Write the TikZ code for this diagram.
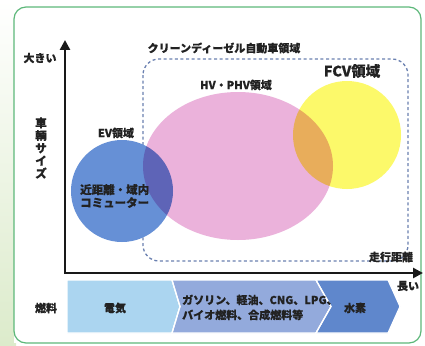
\documentclass[tikz,border=0pt]{standalone}
\usepackage{fontspec}
\setmainfont[FakeBold=0.35]{Noto Sans CJK JP}
\usetikzlibrary{arrows.meta}
\definecolor{framegreen}{HTML}{5DB87A}
\definecolor{palegreen}{HTML}{DCEBCB}
\definecolor{dashblue}{HTML}{6A80B0}
\definecolor{pinkc}{HTML}{EBB2DB}
\definecolor{yellowc}{HTML}{FCF96A}
\definecolor{bluec}{HTML}{6690D6}
\definecolor{fuelA}{HTML}{ABD5F0}
\definecolor{fuelB}{HTML}{93AADC}
\definecolor{fuelC}{HTML}{5F87CC}
\definecolor{txt}{HTML}{222222}
\tikzset{
  lbl/.style={inner sep=0pt, text=txt, font=\bfseries\fontsize{11}{13}\selectfont},
  biglbl/.style={inner sep=0pt, text=txt, font=\bfseries\fontsize{14.5}{16}\selectfont},
  fuelseg/.style={draw=white, line width=1.2pt, line join=miter},
  axisline/.style={line width=2.6pt, draw=black!90, line join=miter,
     {Triangle[length=10pt,width=10pt]}-{Triangle[length=10pt,width=10pt]}},
  zone/.style={draw=dashblue, line width=1.3pt, dash pattern=on 3pt off 2.6pt, rounded corners=16pt},
}
\begin{document}
\begin{tikzpicture}[x=1pt,y=-1pt]
\useasboundingbox (0,0) rectangle (425,345);
% left pale margin
\shade[top color=white, bottom color=palegreen] (0,0) rectangle (16,345);
\fill[white] (14,7) rectangle (421,343);
% frame
\draw[framegreen, line width=1.2pt, rounded corners=12pt] (14,7) rectangle (421,343);

% dashed clean diesel zone
\draw[zone] (143,59) rectangle (408,261);

% ellipses
\begin{scope}[blend group=multiply]
  \fill[pinkc] (238,166) ellipse [x radius=95, y radius=74];
  \fill[yellowc] (347,135) circle [radius=54];
  \fill[bluec] (122,191) circle [radius=51];
\end{scope}

% axes
\coordinate (ytop) at (65,40);
\coordinate (origin) at (65,273);
\coordinate (xend) at (423,273);
\draw[axisline] (ytop) -- (origin) -- (xend);

% labels
\node[lbl] (big) at (40,58) {大きい};
\node[lbl, align=center, font=\bfseries\fontsize{11.5}{12.6}\selectfont] (size) at (41,148) {車\\輌\\サ\\イ\\ズ};
\node[lbl] (cd) at (224,48) {クリーンディーゼル自動車領域};
\node[lbl] (hv) at (236,85) {HV・PHV領域};
\node[biglbl] (fcv) at (352,71) {FCV領域};
\node[lbl] (ev) at (116,133) {EV領域};
\node[lbl, anchor=west, align=left, font=\bfseries\fontsize{11.5}{13}\selectfont] (commuter) at (80,196) {近距離・域内\\コミューター};
\node[lbl] (dist) at (391,257) {走行距離};
\node[lbl] (long) at (408,286) {長い};

% fuel bar
\fill[fuelseg, fill=fuelA] (67,280) -- (172,280) -- (180,306.5) -- (172,333) -- (67,333) -- cycle;
\fill[fuelseg, fill=fuelB] (172,280) -- (316,280) -- (331,306.5) -- (316,333) -- (172,333) -- (180,306.5) -- cycle;
\fill[fuelseg, fill=fuelC] (316,280) -- (388,280) -- (400,306.5) -- (388,333) -- (316,333) -- (331,306.5) -- cycle;
\draw[fuelseg] (172,280) -- (180,306.5) -- (172,333);
\draw[fuelseg] (316,280) -- (331,306.5) -- (316,333);

\node[lbl] (fuel) at (46,308) {燃料};
\node[lbl] (elec) at (115,308) {電気};
\node[lbl, anchor=west, align=left, font=\bfseries\fontsize{11}{15}\selectfont] (gas) at (182,307.5) {ガソリン、軽油、CNG、LPG、\\バイオ燃料、合成燃料等};
\node[lbl] (h2) at (355,308) {水素};
\end{tikzpicture}
\end{document}
